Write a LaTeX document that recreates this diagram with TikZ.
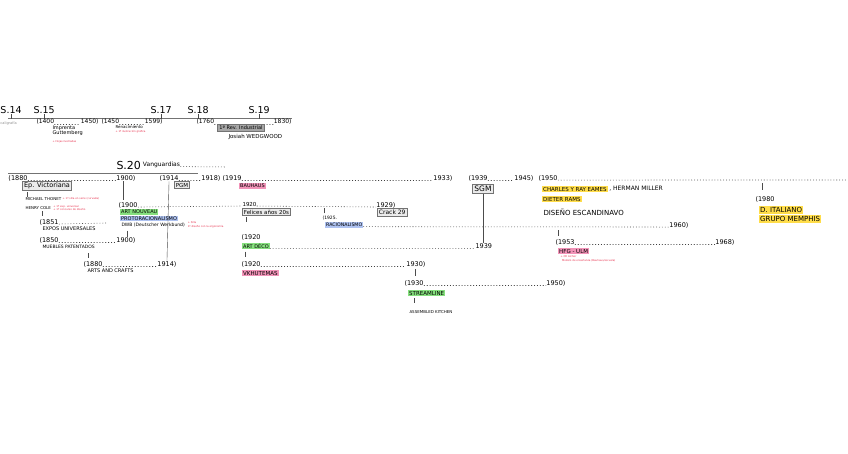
\documentclass[tikz,border=0pt]{standalone}
\usepackage{fontspec}
\setmainfont{DejaVu Sans}
\usetikzlibrary{calc}
\definecolor{hlgreen}{HTML}{86E07E}
\definecolor{hlyellow}{HTML}{FFDD4A}
\definecolor{hlpink}{HTML}{F293B8}
\definecolor{hlblue}{HTML}{AFC3F2}
\definecolor{notered}{HTML}{E8324E}
\newcommand{\fsz}[1]{\fontsize{#1}{#1}\selectfont}

\begin{document}
\begin{tikzpicture}[x=1pt,y=-1pt,
  txt/.style={inner sep=0.3pt,anchor=west},
  yr/.style={txt,font=\fsz{6.5}},
  note/.style={txt,font=\fontsize{2.6}{3.9}\selectfont,text=notered,align=left},
  hl/.style={txt,fill=#1,inner sep=1pt},
  era/.style={draw=black!55,line width=1pt,fill=black!8,inner sep=1.6pt},
  axis/.style={draw=black!55,line width=0.6pt},
  tick/.style={draw=black!70,line width=0.4pt},
  dots/.style={draw=black!75,line width=0.55pt,dash pattern=on 0.5pt off 2.4pt,line cap=round}]
  \useasboundingbox[fill=white] (0,0) rectangle (848,454);

  % siglos
  \node[txt,font=\fsz{9.5}] (s14) at (0,110) {S.14};
  \node[txt,font=\fsz{9.5}] (s15) at (33,110) {S.15};
  \node[txt,font=\fsz{9.5}] (s17) at (150,110) {S.17};
  \node[txt,font=\fsz{9.5}] (s18) at (187,110) {S.18};
  \node[txt,font=\fsz{9.5}] (s19) at (248,110) {S.19};
  \coordinate (axL) at (8,118);
  \coordinate (axR) at (292,118);
  \draw[axis] (axL) -- (axR);
  \foreach \s in {s14,s15,s17,s18,s19}
    \draw[tick] (\s.south) -- ++(0,5);

  \node[txt,font=\fsz{3.5},text=black!45] (calig) at (0,123) {caligrafía};
  \node[yr,font=\fsz{6}] (t1400) at (36,122) {(1400};
  \node[yr,font=\fsz{6},anchor=east] (t1450a) at (99,122) {1450)};
  \draw[dots] (t1400.base east) -- (t1450a.base west);
  \node[yr,font=\fsz{6}] (t1450b) at (101,122) {(1450};
  \node[yr,font=\fsz{6},anchor=east] (t1599) at (163,122) {1599)};
  \draw[dots] (t1450b.base east) -- (t1599.base west);
  \node[yr,font=\fsz{6}] (t1760) at (196,122) {(1760};
  \node[yr,font=\fsz{6},anchor=east] (t1830) at (292,122) {1830)};
  \draw[dots] (t1760.base east) -- (t1830.base west);

  \node[txt,font=\fsz{5},align=left] (imprenta) at (52,131) {Imprenta\\Guttemberg};
  \node[note] (imprentaN) at (52,142) {+ Hojas ilustradas};
  \node[txt,font=\fsz{4}] (renac) at (115,127) {Renacimiento};
  \node[note] (renacN) at (115,132) {+ 1ª ilustración gráfica};
  \node[era,fill=black!35,font=\fsz{5}] (revind) at (241,128) {1ª Rev. Industrial};
  \node[txt,font=\fsz{5.5}] (wedg) at (228,137) {Josiah WEDGWOOD};

  % siglo XX
  \node[txt,font=\fsz{11}] (s20) at (116,165) {S.20};
  \node[txt,font=\fsz{6}] (vang) at (s20.east) {\,Vanguardias};
  \coordinate (vangEnd) at (226,167);
  \draw[dots] (vang.base east) -- (vangEnd);
  \coordinate (linL) at (8,173);
  \coordinate (linR) at (198,173);
  \draw[axis] (linL) -- (linR);

  \node[yr] (a1880) at (8,178) {(1880};
  \node[yr,anchor=east] (b1900) at (136,178) {1900)};
  \draw[dots] (a1880.base east) -- (b1900.base west);
  \node[yr] (a1914) at (159,178) {(1914};
  \node[yr,anchor=east] (b1918) at (221,178) {1918)};
  \draw[dots] (a1914.base east) -- (b1918.base west);
  \node[yr] (a1919) at (222,178) {(1919};
  \node[yr,anchor=east] (b1933) at (453,178) {1933)};
  \draw[dots] (a1919.base east) -- (b1933.base west);
  \node[yr] (a1939) at (468,178) {(1939};
  \node[yr,anchor=east] (b1945) at (534,178) {1945)};
  \draw[dots] (a1939.base east) -- (b1945.base west);
  \node[yr] (a1950) at (538,178) {(1950};
  \coordinate (endR) at (848,180);
  \draw[dots] (a1950.base east) -- (endR);

  \node[era,font=\fsz{6.5}] (victoriana) at (47,186) {Ep. Victoriana};
  \node[era,font=\fsz{5.5}] (pgm) at (182,185) {PGM};
  \node[hl=hlpink,font=\fsz{5}] (bauhaus) at (239,186) {BAUHAUS};
  \node[era,font=\fsz{7.5}] (sgm) at (483,189) {SGM};

  % siglo XIX, izquierda
  \draw[tick] (victoriana.south west) ++(5,1) -- ++(0,5);
  \node[txt,font=\fsz{4}] (thonet) at (25,199) {MICHAEL THONET};
  \node[note] (thonetN) at (thonet.east) {\,+ 1ª silla en serie (curvada)};
  \node[txt,font=\fsz{4}] (cole) at (25,208) {HENRY COLE};
  \node[note] (coleN) at ([xshift=1.5pt]cole.east) {+ 1ª exp. universal\\+ 1º concurso de diseño};
  \draw[tick] ([xshift=17pt]cole.south west) ++(0,1) -- ++(0,5);
  \node[yr] (a1851) at (39,222) {(1851};
  \coordinate (e1851) at (106,223);
  \draw[dots] (a1851.base east) -- (e1851);
  \node[txt,font=\fsz{5}] (expos) at (42,229) {EXPOS UNIVERSALES};
  \node[yr] (a1850) at (39,240) {(1850};
  \node[yr,anchor=east] (b1900b) at (136,240) {1900)};
  \draw[dots] (a1850.base east) -- (b1900b.base west);
  \node[txt,font=\fsz{4.5}] (muebles) at (42,247) {MUEBLES PATENTADOS};
  \draw[tick] ([xshift=46pt]muebles.south west) ++(0,4) -- ++(0,5);
  \node[yr] (a1880b) at (83,264) {(1880};
  \node[yr,anchor=east] (b1914) at (177,264) {1914)};
  \draw[dots] (a1880b.base east) -- (b1914.base west);
  \node[txt,font=\fsz{5}] (arts) at (87,271) {ARTS AND CRAFTS};

  % 1900
  \draw[tick] (b1900.south) ++(-3,0) -- ++(0,19);
  \node[yr] (a1900) at (118,205) {(1900};
  \node[txt,font=\fsz{5.5}] (a1920f) at (242,204) {1920};
  \node[yr,anchor=east] (b1929) at (396,205) {1929)};
  \draw[dots] (a1900.base east) -- (a1920f.base west);
  \draw[dots] (a1920f.base east) -- (b1929.base west);
  \node[hl=hlgreen,font=\fsz{5}] (nouveau) at (120,212) {ART NOUVEAU};
  \node[hl=hlblue,font=\fsz{5}] (protorac) at (120,218.5) {PROTORACIONALISMO};
  \node[txt,font=\fsz{4.5}] (dwb) at (121,225) {DWB (Deutscher Werkbund)};
  \node[note] (dwbN) at ([xshift=2pt]dwb.east) {+ Silla\\1º diseño con la ergonomía};
  \draw[tick] ([xshift=6pt]dwb.south west) ++(0,3) -- ++(0,6);
  \draw[tick] (a1914.south) -- (b1914.north);

  % entreguerras
  \node[era,line width=0.6pt,font=\fsz{5.5},anchor=west] (felices) at (242,212) {Felices años 20s};
  \draw[tick] ([xshift=4pt]felices.south west) ++(0,1) -- ++(0,5);
  \node[era,line width=0.6pt,font=\fsz{6},anchor=west] (crack) at (377,212) {Crack 29};
  \node[txt,font=\fsz{4.5}] (a1925) at (322,218) {(1925.};
  \draw[tick] ([xshift=2pt]a1925.north west) ++(0,-2) -- ++(0,-5);
  \node[hl=hlblue,font=\fsz{4.7}] (racional) at (325,225) {RACIONALISMO};
  \node[yr,anchor=east] (b1960) at (689,225) {1960)};
  \draw[dots] (racional.base east) -- (b1960.base west);

  \node[yr] (a1920d) at (241,237) {(1920};
  \node[hl=hlgreen,font=\fsz{5}] (deco) at (242,246) {ART DÉCO};
  \node[yr] (b1939) at (475,246) {1939};
  \draw[dots] (deco.base east) -- (b1939.base west);
  \draw[tick] ([xshift=3pt]deco.south west) ++(0,2) -- ++(0,5);
  \node[yr] (a1920v) at (241,264) {(1920};
  \node[yr,anchor=east] (b1930) at (426,264) {1930)};
  \draw[dots] (a1920v.base east) -- (b1930.base west);
  \node[hl=hlpink,font=\fsz{5.5}] (vkhut) at (242,273) {VKHUTEMAS};
  \draw[tick] ([xshift=-11pt]b1930.south east) ++(0,2) -- ++(0,7);
  \node[yr] (a1930) at (404,283) {(1930};
  \node[yr,anchor=east] (b1950) at (566,283) {1950)};
  \draw[dots] (a1930.base east) -- (b1950.base west);
  \node[hl=hlgreen,font=\fsz{5.5}] (stream) at (408,293) {STREAMLINE};
  \draw[tick] ([xshift=6pt]stream.south west) ++(0,2) -- ++(0,5);
  \node[txt,font=\fsz{4}] (kitchen) at (409,312) {ASSEMBLED KITCHEN};
  \draw[tick] (sgm.south) -- (sgm.south |- b1939.north);

  % posguerra
  \node[hl=hlyellow,font=\fsz{5.5}] (eames) at (542,189) {CHARLES Y RAY EAMES};
  \node[txt,font=\fsz{6}] (miller) at (eames.east) {\,, HERMAN MILLER};
  \node[hl=hlyellow,font=\fsz{5.5}] (rams) at (542,199) {DIETER RAMS};
  \node[txt,font=\fsz{7}] (escand) at (543,212) {DISEÑO ESCANDINAVO};
  \node[yr] (a1953) at (555,242) {(1953};
  \node[yr,anchor=east] (b1968) at (735,242) {1968)};
  \draw[dots] (a1953.base east) -- (b1968.base west);
  \draw[tick] ([xshift=3pt]a1953.north west) ++(0,-3) -- ++(0,-6);
  \node[hl=hlpink,font=\fsz{5.5}] (ulm) at (558,251) {HFG - ULM};
  \node[note] (ulmN) at (560,259) {+ Otl Aicher\\\ \ Modelo de enseñanza (Bauhaus/escuela)};

  \node[yr] (a1980) at (755,199) {(1980};
  \draw[tick] ([xshift=7pt]a1980.north west) ++(0,-6) -- ++(0,-7);
  \node[hl=hlyellow,font=\fsz{7}] (italiano) at (759,210) {D. ITALIANO};
  \node[hl=hlyellow,font=\fsz{7}] (memphis) at (759,219) {GRUPO MEMPHIS};
\end{tikzpicture}
\end{document}
